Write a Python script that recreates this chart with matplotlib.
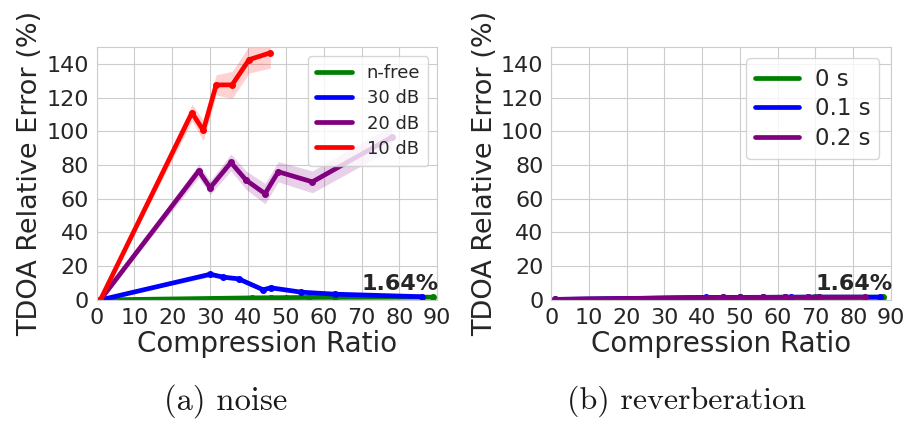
import numpy as np
import matplotlib
matplotlib.use('Agg')
import matplotlib.pyplot as plt
import seaborn as sns

# noise panel: compression ratio -> TDOA relative error (%)
nfree_x = [1, 41, 46, 50, 56, 63, 89]
nfree_y = [0.0, 1.2, 1.3, 1.35, 1.45, 1.5, 1.64]
nfree_sd = [0.0, 0.3, 0.3, 0.3, 0.3, 0.3, 0.3]

db30_x = [1, 30, 33.5, 37.5, 44, 46, 54, 63, 86]
db30_y = [0.0, 15.2, 13.5, 12.5, 6.0, 7.2, 4.6, 3.4, 1.9]
db30_sd = [0.0, 1.5, 1.3, 1.3, 1.0, 1.0, 0.8, 0.6, 0.5]

db20_x = [1, 27, 30, 35.5, 39.5, 44.5, 48, 57, 78]
db20_y = [0.0, 76.5, 66.5, 81.5, 71.0, 63.0, 76.0, 70.0, 96.5]
db20_sd = [0.0, 4.0, 4.0, 5.0, 5.5, 6.0, 6.0, 6.5, 7.0]

db10_x = [1, 25.2, 28.2, 31.6, 35.8, 40.3, 45.9]
db10_y = [0.0, 111.0, 100.5, 127.5, 127.5, 142.5, 146.5]
db10_sd = [0.0, 5.0, 6.0, 6.0, 8.0, 8.0, 9.0]

# reverberation panel
rev0_x = [1, 41, 46, 50, 56, 62, 70, 88]
rev0_y = [0.2, 1.35, 1.4, 1.45, 1.5, 1.55, 1.6, 1.64]

rev1_x = [1, 41, 45.5, 50, 56, 62, 63.5, 68, 71, 87]
rev1_y = [0.3, 1.45, 1.5, 1.5, 1.55, 1.6, 1.6, 1.62, 1.62, 1.64]

rev2_x = [1, 41, 45.5, 50, 56, 62, 68, 71, 83]
rev2_y = [0.3, 1.4, 1.45, 1.45, 1.5, 1.55, 1.55, 1.6, 1.6]

noise_labels = ['n-free', '30 dB', '20 dB', '10 dB']
rev_labels = ['0 s', '0.1 s', '0.2 s']
colors = ['green', 'blue', 'purple', 'red']
x_ticks = list(range(0, 100, 10))
y_ticks = list(range(0, 160, 20))
annot = '1.64%'

sns.set_style('whitegrid')
plt.rcParams['font.family'] = ['DejaVu Sans']

fig = plt.figure(figsize=(9.11, 4.23), dpi=100)
ax1 = fig.add_axes([0.106, 0.291, 0.374, 0.598])
ax2 = fig.add_axes([0.605, 0.291, 0.373, 0.598])


def draw(ax, x, y, c, lab):
    # line carries the legend entry, dots drawn separately so the legend stays plain
    ax.plot(x, y, '-', color=c, lw=3.4, label=lab, solid_capstyle='round')
    ax.plot(x, y, 'o', color=c, ms=4)


noise = [(nfree_x, nfree_y, nfree_sd), (db30_x, db30_y, db30_sd),
         (db20_x, db20_y, db20_sd), (db10_x, db10_y, db10_sd)]
for (x, y, sd), c, lab in zip(noise, colors, noise_labels):
    x = np.array(x)
    y = np.array(y)
    sd = np.array(sd)
    ax1.fill_between(x, y - sd, y + sd, color=c, alpha=0.18, linewidth=0)
    draw(ax1, x, y, c, lab)

for x, y, c, lab in zip([rev0_x, rev1_x, rev2_x], [rev0_y, rev1_y, rev2_y],
                        colors[:3], rev_labels):
    draw(ax2, x, y, c, lab)

for ax in (ax1, ax2):
    ax.set_xlim(0, 90)
    ax.set_ylim(0, 150)
    ax.set_xticks(x_ticks)
    ax.set_yticks(y_ticks)
    ax.tick_params(axis='both', labelsize=16, pad=2, colors='#262626')
    ax.set_xlabel('Compression Ratio', fontsize=20, color='#262626', labelpad=2)
    ax.set_ylabel('TDOA Relative Error (%)', fontsize=19.5, color='#262626',
                  labelpad=2)
    ax.text(70, 3.5, annot, fontsize=16, fontweight='bold', color='#262626',
            va='bottom', ha='left', clip_on=False)
    for s in ax.spines.values():
        s.set_color('#cccccc')
    ax.set_axisbelow(True)

ax1.legend(loc='upper right', fontsize=13, handlelength=2.0, borderpad=0.45,
           labelspacing=0.4, handletextpad=0.8, framealpha=0.8)
ax2.legend(loc='upper right', fontsize=16.5, handlelength=1.9, borderpad=0.4,
           labelspacing=0.3, handletextpad=0.7, framealpha=0.8)

fig.text(0.248, 0.052, '(a) noise', fontsize=23.5, family='cmr10',
         ha='center', va='center', color='#1a1a1a')
fig.text(0.754, 0.052, '(b) reverberation', fontsize=23, family='cmr10',
         ha='center', va='center', color='#1a1a1a')

fig.savefig('out.png', dpi=100)
